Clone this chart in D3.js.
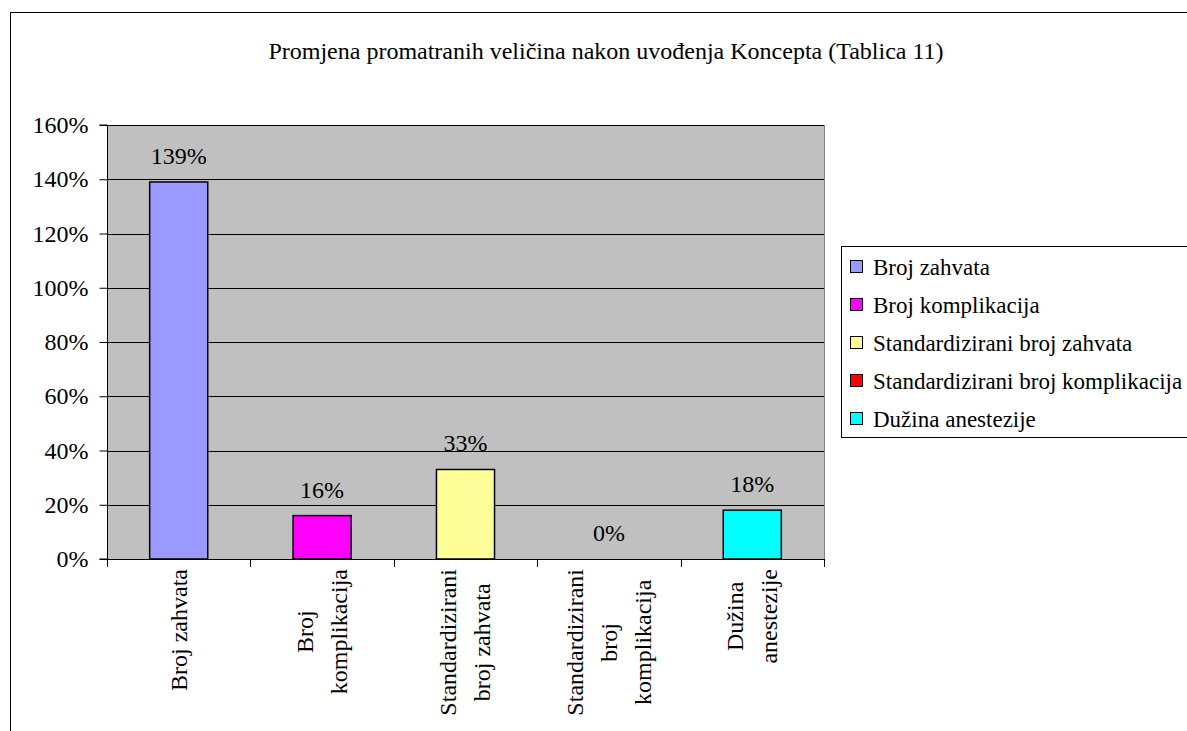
<!DOCTYPE html>
<html>
<head>
<meta charset="utf-8">
<script src="https://cdn.jsdelivr.net/npm/d3@7"></script>
<style>
  html, body { margin: 0; padding: 0; background: #fff; overflow: hidden; }
  svg text { font-family: "Liberation Serif", "Times New Roman", Times, serif !important; fill: #000; }
</style>
</head>
<body>
<svg id="chart" width="1187" height="731"></svg>
<script>
// chart data
var title = "Promjena promatranih veličina nakon uvođenja Koncepta (Tablica 11)";
var categories = ["Broj zahvata", "Broj komplikacija", "Standardizirani broj zahvata",
                  "Standardizirani broj komplikacija", "Dužina anestezije"];
// wrapped axis labels, as in the original
var categoryLines = [
  ["Broj zahvata"],
  ["Broj", "komplikacija"],
  ["Standardizirani", "broj zahvata"],
  ["Standardizirani", "broj", "komplikacija"],
  ["Dužina", "anestezije"]
];
var values = [1.39, 0.16, 0.33, 0.00, 0.18];
var colors = ["#9999ff", "#ff00ff", "#ffff99", "#ff0000", "#00ffff"];
var yTicks = [0, 0.2, 0.4, 0.6, 0.8, 1.0, 1.2, 1.4, 1.6];

var svg = d3.select("#chart")
    .attr("font-family", "Liberation Serif, Times New Roman, serif");
var fontSize = 24;
var serif = "'Liberation Serif', 'Times New Roman', serif";
var pct = d3.format(".0%");

// outer frame of the chart object
svg.append("rect")
    .attr("x", 10.5).attr("y", 12.5)
    .attr("width", 1200).attr("height", 740)
    .attr("fill", "#fff").attr("stroke", "#000").attr("stroke-width", 1);

svg.append("text")
    .attr("x", 606).attr("y", 59)
    .attr("text-anchor", "middle")
    .style("font-family", serif)
    .style("font-size", fontSize + "px")
    .text(title);

var plot = { left: 107, top: 125, right: 824, bottom: 559 };

var x = d3.scaleBand()
    .domain(categories)
    .range([plot.left, plot.right]);

var y = d3.scaleLinear()
    .domain([0, 1.6])
    .range([plot.bottom, plot.top]);

// plot area
svg.append("rect")
    .attr("x", plot.left).attr("y", plot.top)
    .attr("width", plot.right - plot.left).attr("height", plot.bottom - plot.top)
    .attr("fill", "#c0c0c0");

svg.append("line")
    .attr("x1", plot.right + 0.5).attr("x2", plot.right + 0.5)
    .attr("y1", plot.top).attr("y2", plot.bottom)
    .attr("stroke", "#808080");

// gridlines
svg.append("g")
    .selectAll("line")
    .data(yTicks.slice(1))
    .enter().append("line")
      .attr("x1", plot.left).attr("x2", plot.right)
      .attr("y1", function(d) { return Math.round(y(d)) + 0.5; })
      .attr("y2", function(d) { return Math.round(y(d)) + 0.5; })
      .attr("stroke", "#000").attr("stroke-width", 1);

// y axis
var yAxis = svg.append("g")
    .attr("transform", "translate(" + (plot.left + 0.5) + ",0)")
    .call(d3.axisLeft(y).tickValues(yTicks).tickFormat(pct).tickSize(8).tickPadding(11));
yAxis.attr("font-family", null).attr("font-size", null);
yAxis.selectAll("text")
    .style("font-family", serif)
    .style("font-size", fontSize + "px");
yAxis.selectAll("line, path").attr("stroke", "#000");
yAxis.select(".domain").attr("d", "M-8," + plot.top + "H0V" + plot.bottom + "H-8");

// x axis baseline and ticks at category boundaries
var boundaries = categories.map(function(c) { return x(c); }).concat([plot.right]);
svg.append("line")
    .attr("x1", plot.left).attr("x2", plot.right)
    .attr("y1", plot.bottom + 0.5).attr("y2", plot.bottom + 0.5)
    .attr("stroke", "#000");
svg.append("g")
    .selectAll("line")
    .data(boundaries)
    .enter().append("line")
      .attr("x1", function(d) { return Math.round(d) + 0.5; })
      .attr("x2", function(d) { return Math.round(d) + 0.5; })
      .attr("y1", plot.bottom).attr("y2", plot.bottom + 8)
      .attr("stroke", "#000");

// bars
var barW = x.bandwidth() * 0.405;
svg.append("g")
    .selectAll("rect")
    .data(values)
    .enter().append("rect")
      .attr("x", function(d, i) { return x(categories[i]) + (x.bandwidth() - barW) / 2; })
      .attr("y", function(d) { return y(d); })
      .attr("width", barW)
      .attr("height", function(d) { return y(0) - y(d); })
      .attr("fill", function(d, i) { return colors[i]; })
      .attr("stroke", "#000")
      .attr("stroke-width", function(d) { return d > 0 ? 1.5 : 0; });

// value labels
svg.append("g")
    .selectAll("text")
    .data(values)
    .enter().append("text")
      .attr("x", function(d, i) { return x(categories[i]) + x.bandwidth() / 2; })
      .attr("y", function(d) { return y(d) - 18; })
      .attr("text-anchor", "middle")
      .style("font-family", serif)
      .style("font-size", fontSize + "px")
      .text(function(d) { return pct(d); });

// rotated category labels
var lineGap = 34;
categoryLines.forEach(function(lines, i) {
  var cx = x(categories[i]) + x.bandwidth() / 2;
  var g = svg.append("g");
  var texts = g.selectAll("text")
      .data(lines)
      .enter().append("text")
        .attr("text-anchor", "middle")
        .attr("dy", "0.33em")
        .style("font-family", serif)
        .style("font-size", fontSize + "px")
        .text(function(d) { return d; });
  var maxLen = 0;
  texts.each(function() { maxLen = Math.max(maxLen, this.getComputedTextLength()); });
  var cy = 569 + maxLen / 2;
  texts.attr("transform", function(d, j) {
    var lx = cx + (j - (lines.length - 1) / 2) * lineGap;
    return "translate(" + lx + "," + cy + ") rotate(-90)";
  });
});

// legend
var legend = svg.append("g");
legend.append("rect")
    .attr("x", 841.5).attr("y", 246.5)
    .attr("width", 400).attr("height", 191)
    .attr("fill", "#fff").attr("stroke", "#000");
var rows = legend.selectAll("g.row")
    .data(categories)
    .enter().append("g")
      .attr("class", "row")
      .attr("transform", function(d, i) { return "translate(0," + (267 + i * 38) + ")"; });
rows.append("rect")
    .attr("x", 850.5).attr("y", -6.5)
    .attr("width", 12).attr("height", 12)
    .attr("fill", function(d, i) { return colors[i]; })
    .attr("stroke", "#000");
rows.append("text")
    .attr("x", 873).attr("dy", "0.33em")
    .style("font-family", serif)
    .style("font-size", "23px")
    .text(function(d) { return d; });
</script>
</body>
</html>
